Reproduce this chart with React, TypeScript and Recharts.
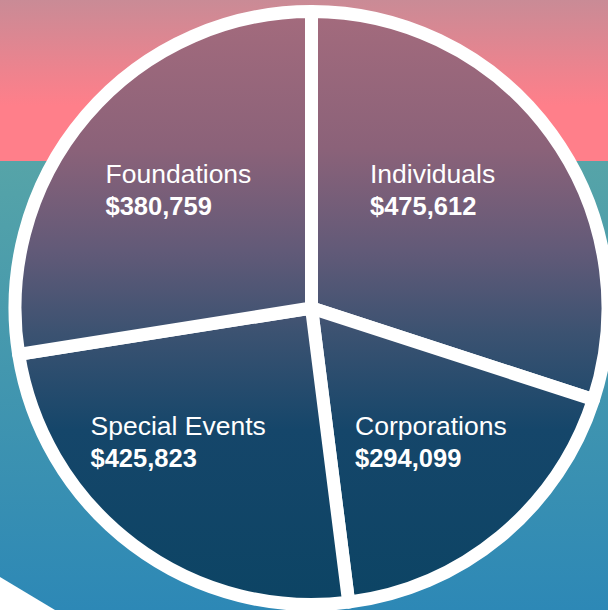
import React from 'react';
import { PieChart, Pie, Cell } from 'recharts';

// slices, clockwise from 12 o'clock
const categories = ['Individuals', 'Corporations', 'Special Events', 'Foundations'];
// dollar amounts printed inside each slice
const amounts = [475612, 294099, 425823, 380759];
// slice sizes as drawn in the graphic (percent of the circle)
const shares = [30, 18, 24.5, 27.5];

const data = categories.map((name, i) => ({ name, amount: amounts[i], share: shares[i] }));

const FONT = '"Liberation Sans", Arial, Helvetica, sans-serif';
const RAD = Math.PI / 180;

const money = (v: number) => '$' + v.toLocaleString('en-US');

// two-line label, left aligned, laid out on a 2x2 grid around the centre
function SliceLabel(props: any) {
  const { cx, cy, midAngle, index } = props;
  const right = Math.cos(midAngle * RAD) > 0;
  const top = Math.sin(midAngle * RAD) > 0;
  const x = cx + (right ? 50.5 : -214) + (top ? 8 : -7);
  const y = cy + (top ? -125 : 127);
  return (
    <g>
      <text x={x} y={y} fill="#fff" fontSize={26.5} fontFamily={FONT}>
        {categories[index]}
      </text>
      <text x={x} y={y + 32} fill="#fff" fontSize={25.5} fontWeight={700} fontFamily={FONT}>
        {money(amounts[index])}
      </text>
    </g>
  );
}

export default function App() {
  return (
    <div
      style={{
        position: 'absolute',
        left: 0,
        top: 0,
        width: 608,
        height: 610,
        overflow: 'hidden',
        background:
          'linear-gradient(to bottom, #c98b96 0px, #ff7f8a 105px, #ff7f8a 161px, #56a4a8 161px, #2d88b6 610px)',
      }}
    >
      <svg width={608} height={610} style={{ position: 'absolute', left: 0, top: 0 }}>
        <polygon points="0,577 60,613 0,613" fill="#fff" />
      </svg>
      <PieChart
        width={608}
        height={610}
        margin={{ top: 0, right: 0, bottom: 0, left: 0 }}
        style={{ position: 'absolute', left: 0, top: 0 }}
      >
        <defs>
          <linearGradient id="pieFill" gradientUnits="userSpaceOnUse" x1={0} y1={10} x2={0} y2={610}>
            <stop offset="0" stopColor="#a46b7d" />
            <stop offset="0.23" stopColor="#8b6279" />
            <stop offset="0.4" stopColor="#625a78" />
            <stop offset="0.54" stopColor="#3b5271" />
            <stop offset="0.7" stopColor="#15466a" />
            <stop offset="1" stopColor="#0c4464" />
          </linearGradient>
        </defs>
        <Pie
          data={data}
          dataKey="share"
          nameKey="name"
          cx={311.5}
          cy={308}
          outerRadius={296.5}
          startAngle={90}
          endAngle={-270}
          stroke="#fff"
          strokeWidth={13}
          strokeLinejoin="round"
          label={SliceLabel}
          labelLine={false}
          isAnimationActive={false}
        >
          {data.map((d) => (
            <Cell key={d.name} fill="url(#pieFill)" />
          ))}
        </Pie>
      </PieChart>
    </div>
  );
}
